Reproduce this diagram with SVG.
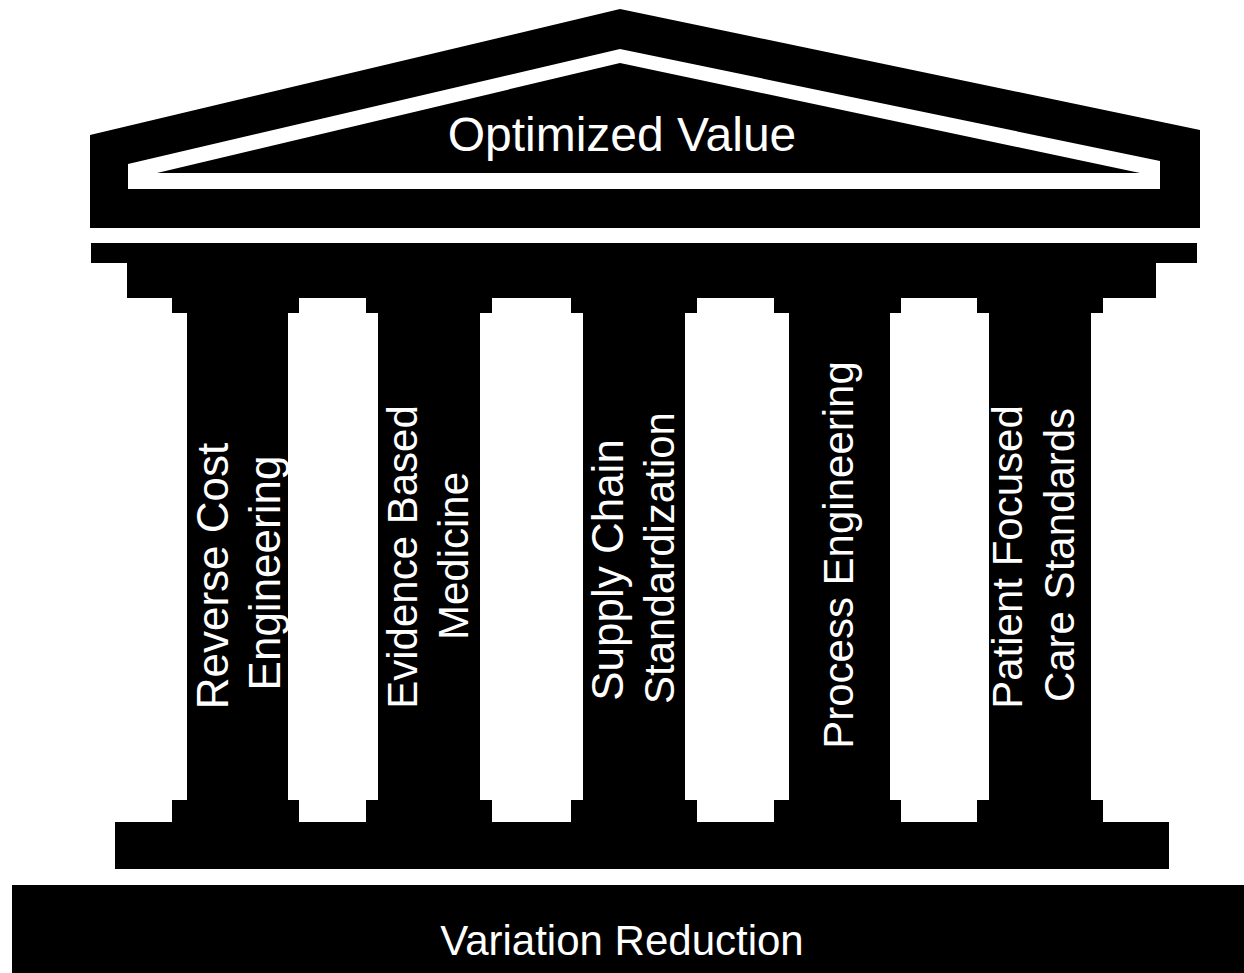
<svg xmlns="http://www.w3.org/2000/svg" width="1244" height="973" viewBox="0 0 1244 973">
  <style>
    .solid { fill: #000000; }
    .gap { fill: #ffffff; }
    .label { fill: #ffffff; font-family: "Liberation Sans", Arial, sans-serif; text-anchor: middle; }
    .col-label { font-size: 42px; }
    .col-label.large { font-size: 44px; }
  </style>
  <rect width="1244" height="973" fill="#ffffff"/>

  <!-- Pediment -->
  <g id="roof">
    <polygon class="solid" points="90,228 90,135 620,9 1200,130 1200,228"/>
    <polygon class="gap" points="128,189 128,164 620,49 1160,161 1160,189"/>
    <polygon class="solid" points="157,173 620,63 1140,173"/>
    <text class="label" x="622" y="151" font-size="48">Optimized Value</text>
  </g>

  <!-- Entablature -->
  <g id="entablature">
    <rect class="solid" x="91" y="243" width="1106" height="20"/>
    <rect class="solid" x="127" y="262" width="1029" height="36"/>
  </g>

  <!-- Pillars: capital, shaft, base, label -->
  <g id="pillar-1">
    <rect class="solid" x="172" y="297" width="127" height="16"/>
    <rect class="solid" x="187" y="312" width="101" height="490"/>
    <rect class="solid" x="172" y="800" width="127" height="23"/>
    <text class="label col-label large" transform="translate(228,576) rotate(-90)">Reverse Cost</text>
    <text class="label col-label large" transform="translate(280,573) rotate(-90)">Engineering</text>
  </g>
  <g id="pillar-2">
    <rect class="solid" x="366" y="297" width="126" height="16"/>
    <rect class="solid" x="378" y="312" width="102" height="490"/>
    <rect class="solid" x="366" y="800" width="126" height="23"/>
    <text class="label col-label" transform="translate(417,557) rotate(-90)">Evidence Based</text>
    <text class="label col-label" transform="translate(468,556) rotate(-90)">Medicine</text>
  </g>
  <g id="pillar-3">
    <rect class="solid" x="571" y="297" width="126" height="16"/>
    <rect class="solid" x="583" y="312" width="102" height="490"/>
    <rect class="solid" x="571" y="800" width="126" height="23"/>
    <text class="label col-label large" transform="translate(623,570) rotate(-90)">Supply Chain</text>
    <text class="label col-label" transform="translate(674,558) rotate(-90)">Standardization</text>
  </g>
  <g id="pillar-4">
    <rect class="solid" x="774" y="297" width="127" height="16"/>
    <rect class="solid" x="789" y="312" width="101" height="490"/>
    <rect class="solid" x="774" y="800" width="127" height="23"/>
    <text class="label col-label" transform="translate(853,555) rotate(-90)">Process Engineering</text>
  </g>
  <g id="pillar-5">
    <rect class="solid" x="977" y="297" width="126" height="16"/>
    <rect class="solid" x="989" y="312" width="102" height="490"/>
    <rect class="solid" x="977" y="800" width="126" height="23"/>
    <text class="label col-label" transform="translate(1022,557) rotate(-90)">Patient Focused</text>
    <text class="label col-label" transform="translate(1074,555) rotate(-90)">Care Standards</text>
  </g>

  <!-- Stylobate -->
  <g id="stylobate">
    <rect class="solid" x="115" y="822" width="1054" height="47"/>
  </g>

  <!-- Foundation -->
  <g id="foundation">
    <rect class="solid" x="12" y="885" width="1232" height="88"/>
    <text class="label" x="622" y="955" font-size="42">Variation Reduction</text>
  </g>

  <g id="connectors"/>
</svg>
